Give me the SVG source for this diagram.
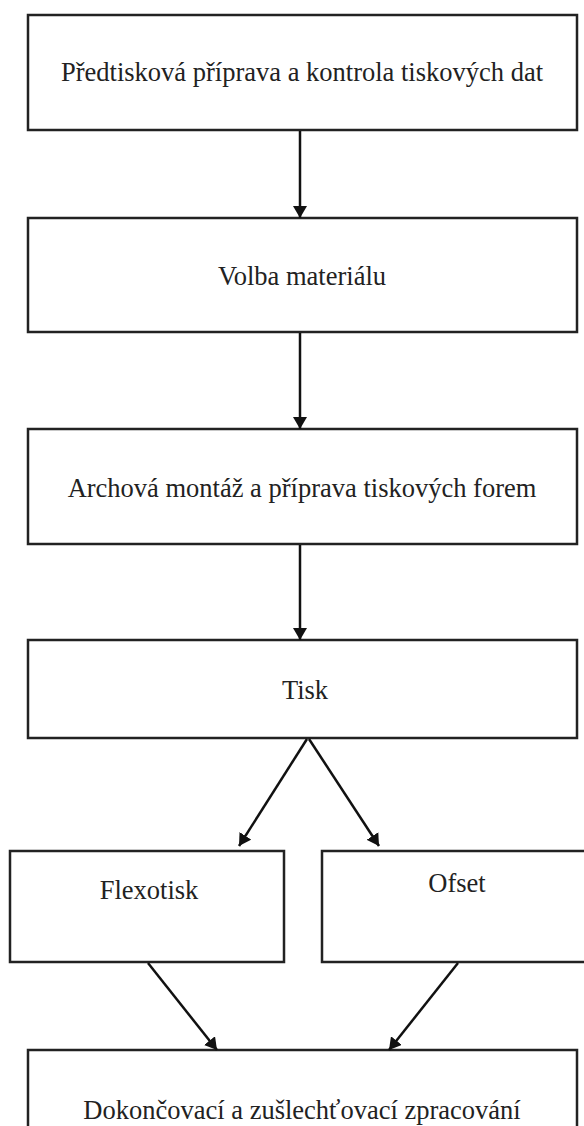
<svg xmlns="http://www.w3.org/2000/svg" width="584" height="1126" viewBox="0 0 584 1126">
<defs>
<marker id="ah" markerWidth="16" markerHeight="14" refX="12" refY="7" orient="auto" markerUnits="userSpaceOnUse">
<path d="M0,0 L12,7 L0,14 z" fill="#111"/>
</marker>
<style>
.box{fill:#fff;stroke:#222;stroke-width:2.5}
.lbl{font-family:"Liberation Serif","Times New Roman",serif;font-size:26.5px;fill:#222;text-anchor:middle}
.con{stroke:#111;stroke-width:2.5;fill:none;marker-end:url(#ah)}
</style>
</defs>
<rect width="584" height="1126" fill="#fff"/>
<g id="n1"><rect class="box" x="28" y="15" width="549" height="115"/><text class="lbl" x="302" y="81">Předtisková příprava a kontrola tiskových dat</text></g>
<g id="n2"><rect class="box" x="28" y="218" width="549" height="114"/><text class="lbl" x="302" y="285">Volba materiálu</text></g>
<g id="n3"><rect class="box" x="28" y="429" width="549" height="115"/><text class="lbl" x="302" y="497">Archová montáž a příprava tiskových forem</text></g>
<g id="n4"><rect class="box" x="28" y="640" width="549" height="98"/><text class="lbl" x="305" y="699">Tisk</text></g>
<g id="n5"><rect class="box" x="10" y="851" width="274" height="111"/><text class="lbl" x="149" y="899">Flexotisk</text></g>
<g id="n6"><rect class="box" x="322" y="851" width="270" height="111"/><text class="lbl" x="457" y="892">Ofset</text></g>
<g id="n7"><rect class="box" x="28" y="1050" width="549" height="90"/><text class="lbl" x="302" y="1119">Dokončovací a zušlechťovací zpracování</text></g>
<g id="connectors">
<line class="con" x1="300" y1="131" x2="300" y2="218"/>
<line class="con" x1="300" y1="333" x2="300" y2="429"/>
<line class="con" x1="300" y1="545" x2="300" y2="640"/>
<line class="con" x1="307" y1="739" x2="239" y2="846"/>
<line class="con" x1="309" y1="739" x2="379" y2="846"/>
<line class="con" x1="148" y1="963" x2="217" y2="1050"/>
<line class="con" x1="458" y1="963" x2="389" y2="1050"/>
</g>
</svg>
